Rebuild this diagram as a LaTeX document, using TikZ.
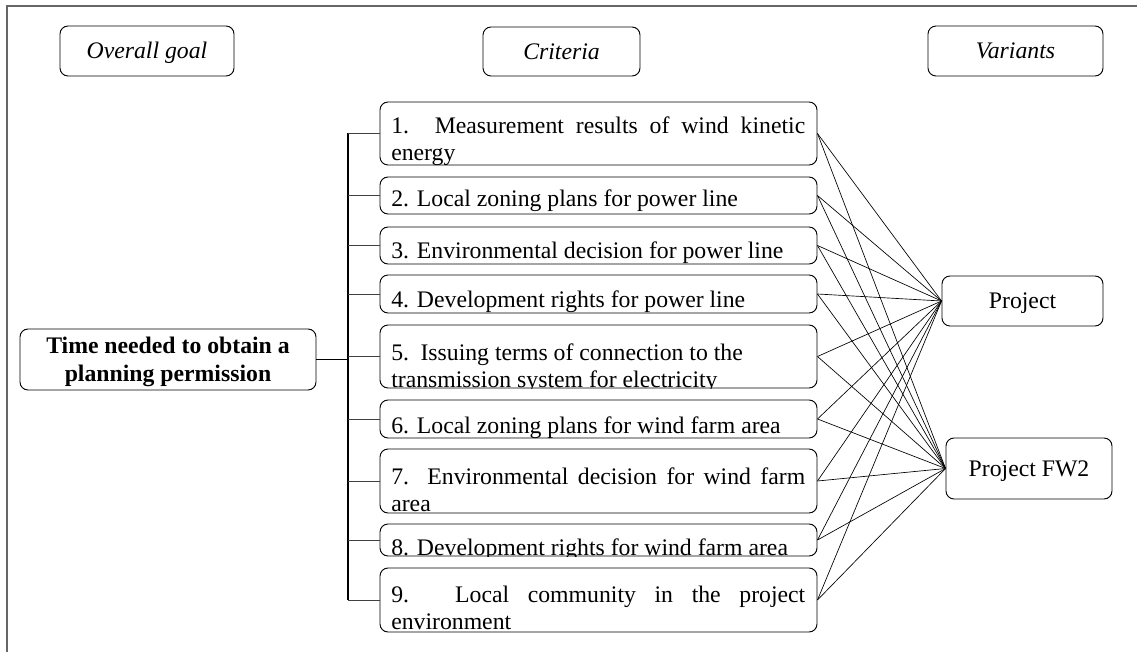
\documentclass[tikz,border=0pt]{standalone}
\usepackage{fontspec}
\setmainfont{Liberation Serif}
\usetikzlibrary{fit}
\tikzset{
  frame/.style={draw=black!60, line width=0.8pt},
  box/.style={draw, rounded corners=6pt, inner sep=0pt, line width=0.7pt},
  oneline/.style={text height=13.3pt, text depth=1.8pt},
  txt/.style={inner sep=0pt, anchor=base west, align=left},
  link/.style={line width=0.5pt},
  branch/.style={draw=black!75, line width=0.6pt},
  trunk/.style={line width=0.9pt},
  goalline/.style={line width=1.3pt},
}
\begin{document}
\begin{tikzpicture}[x=0.75pt, y=-0.75pt, font=\fontsize{17.8pt}{20pt}\selectfont]
\useasboundingbox (0,0) rectangle (1137,652);
\draw[frame] (7,652) -- (7,6) -- (1137,6);

% column headers
\node[box, oneline, minimum width=130.5pt, minimum height=37.5pt] (h1) at (147,51) {\itshape Overall goal};
\node[box, oneline, minimum width=117.75pt, minimum height=36.75pt] (h2) at (561.5,51.5) {\itshape Criteria};
\node[box, oneline, minimum width=131.25pt, minimum height=37.5pt] (h3) at (1015.5,51) {\itshape Variants};

% overall goal
\node[box, minimum width=222pt, minimum height=45.75pt, align=center, text depth=-2pt,
      font=\fontsize{17.8pt}{21pt}\selectfont\bfseries] (g) at (168,359.5)
  {Time needed to obtain a\\planning permission};

% criteria boxes
\node[box, fit={(380,102)(817,165)}] (c1) {};
\node[box, fit={(380,177)(817,214)}] (c2) {};
\node[box, fit={(380,227)(817,264)}] (c3) {};
\node[box, fit={(380,275)(817,313)}] (c4) {};
\node[box, fit={(380,325)(817,388)}] (c5) {};
\node[box, fit={(380,400)(817,438)}] (c6) {};
\node[box, fit={(380,449)(817,513)}] (c7) {};
\node[box, fit={(380,524)(817,556)}] (c8) {};
\node[box, fit={(380,568)(817,632)}] (c9) {};

% criteria texts (clipped to their boxes)
\begin{scope}
  \clip[rounded corners=6pt] (c1.south west) rectangle (c1.north east);
  \node[txt] (t1) at (391,160.5) {\makebox[310.5pt][s]{1. Measurement results of wind kinetic}\\energy};
\end{scope}
\begin{scope}
  \clip[rounded corners=6pt] (c2.south west) rectangle (c2.north east);
  \node[txt] (t2) at (391,207) {2. Local zoning plans for power line};
\end{scope}
\begin{scope}
  \clip[rounded corners=6pt] (c3.south west) rectangle (c3.north east);
  \node[txt] (t3) at (391,258) {3. Environmental decision for power line};
\end{scope}
\begin{scope}
  \clip[rounded corners=6pt] (c4.south west) rectangle (c4.north east);
  \node[txt] (t4) at (391,307) {4. Development rights for power line};
\end{scope}
\begin{scope}
  \clip[rounded corners=6pt] (c5.south west) rectangle (c5.north east);
  \node[txt] (t5) at (391,387.5) {5.\hspace{0.15em} Issuing terms of connection to the\\transmission system for electricity};
\end{scope}
\begin{scope}
  \clip[rounded corners=6pt] (c6.south west) rectangle (c6.north east);
  \node[txt] (t6) at (391,433) {6. Local zoning plans for wind farm area};
\end{scope}
\begin{scope}
  \clip[rounded corners=6pt] (c7.south west) rectangle (c7.north east);
  \node[txt] (t7) at (391,511.5) {\makebox[310.5pt][s]{7. Environmental decision for wind farm}\\area};
\end{scope}
\begin{scope}
  \clip[rounded corners=6pt] (c8.south west) rectangle (c8.north east);
  \node[txt] (t8) at (391,555) {8. Development rights for wind farm area};
\end{scope}
\begin{scope}
  \clip[rounded corners=6pt] (c9.south west) rectangle (c9.north east);
  \node[txt] (t9) at (391,629) {\makebox[310.5pt][s]{9. Local community in the project}\\environment};
\end{scope}

% variants
\node[box, oneline, minimum width=120.75pt, minimum height=37.5pt] (v1) at (1022.5,301) {Project};
\node[box, oneline, minimum width=124.5pt, minimum height=45.75pt] (v2) at (1029,468.5) {Project FW2};

% tree connectors
\coordinate (tk) at (348,359.5);
\draw[goalline] (g.east) -- (tk);
\draw[trunk] (tk |- c1.west) -- (tk |- c9.west);
\foreach \i in {1,...,9} {
  \draw[branch] (c\i.west) -- (tk |- c\i.west);
}

% criteria to variants
\foreach \i in {1,...,9} {
  \draw[link] (c\i.east) -- (v1.west);
  \draw[link] (c\i.east) -- (v2.west);
}
\end{tikzpicture}
\end{document}
